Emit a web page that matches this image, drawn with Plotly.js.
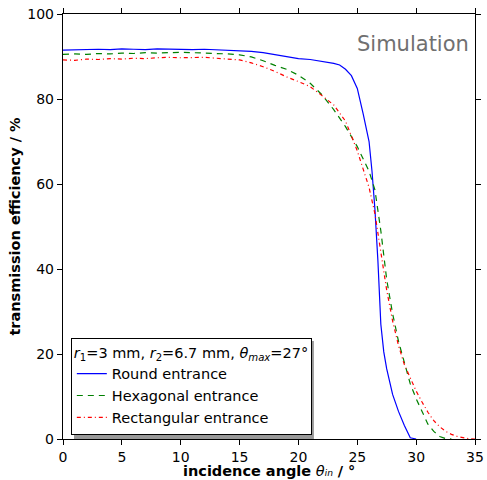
<!DOCTYPE html>
<html>
<head>
<meta charset="utf-8">
<script src="https://cdn.plot.ly/plotly-3.0.1.min.js"></script>
<style>html,body{margin:0;padding:0;background:#fff}#chart{width:487px;height:480px}</style>
</head>
<body>
<div id="chart"></div>
<script>
const roundX = [0,1,2,3,4,5,6,7,8,9,10,11,12,13,14,15,16,17,18,19,20,21,22,23,23.5,24,24.5,25,25.5,26,26.25,26.5,26.75,27,27.25,27.5,28,28.5,29,29.5,30];
const roundY = [91.5,91.6,91.6,91.7,91.6,91.8,91.7,91.6,91.8,91.7,91.7,91.6,91.7,91.6,91.5,91.4,91.2,90.9,90.4,89.9,89.5,89.3,88.9,88.4,88.0,87.0,85.5,82.5,76.5,70,63,54,42,27,20.5,16.5,10.5,6.5,3.2,0.3,0];

const hexX = [0,1,2,3,4,5,6,7,8,9,10,11,12,13,14,15,16,17,18,19,20,21,22,23,24,25,25.5,26,26.5,27,27.5,28,28.5,29,29.5,30,30.5,31,31.5,32,32.5,33];
const hexY = [90.5,90.6,90.5,90.7,90.6,90.8,90.7,90.9,90.8,90.9,91.0,90.9,90.8,90.8,90.6,90.4,89.9,89.0,87.9,87.0,85.6,83.7,81.0,77.5,73.5,68.8,66,63,58.6,49,37.5,29.5,23,17.8,13,9.5,6.5,3.5,1.8,0.6,0.1,0];

const rectX = [0,1,2,3,4,5,6,7,8,9,10,11,12,13,14,15,16,17,18,19,20,21,22,23,24,25,25.5,26,26.5,27,27.5,28,28.5,29,29.5,30,30.5,31,31.5,32,32.5,33,33.5,34,34.5,35];
const rectY = [89.2,89.1,89.4,89.3,89.5,89.4,89.6,89.5,89.7,89.8,89.7,89.8,89.8,89.6,89.4,89.2,88.5,87.6,86.5,85.2,84.1,82.9,80.8,78.6,74.8,67.8,63.5,59.2,53,44,35,27.8,22,17.5,14.2,11.3,8.7,6.3,4.3,2.9,1.8,1.1,0.6,0.3,0.05,0];

const xTicks = [0,5,10,15,20,25,30,35];
const yTicks = [0,20,40,60,80,100];

const seriesNames = ['Round entrance','Hexagonal entrance','Rectangular entrance'];
const legendTitle = '<i>r</i><sub>1</sub>=3 mm, <i>r</i><sub>2</sub>=6.7 mm, <i>θ</i><sub><i>max</i></sub>=27°';
const xTitle = '<b>incidence angle</b> <i>θᵢₙ</i> <b>/ °</b>';
const yTitle = '<b>transmission efficiency / %</b>';

const font = 'DejaVu Sans, sans-serif';

const traces = [
  {x: roundX, y: roundY, name: seriesNames[0], mode: 'lines', line: {color: '#0000ff', width: 1.2, dash: 'solid'}},
  {x: hexX, y: hexY, name: seriesNames[1], mode: 'lines', line: {color: '#008000', width: 1.2, dash: '6px,5px'}},
  {x: rectX, y: rectY, name: seriesNames[2], mode: 'lines', line: {color: '#ff0000', width: 1.2, dash: '4px,3px,1px,3px'}}
];

const axisCommon = {
  showline: true, linecolor: '#000', linewidth: 1.2, mirror: 'ticks',
  ticks: 'outside', ticklen: 5, tickwidth: 1, tickcolor: '#000',
  showgrid: false, zeroline: false,
  tickfont: {family: font, size: 14, color: '#000'}
};

const layout = {
  width: 487, height: 480,
  margin: {l: 63, r: 12, t: 14, b: 41},
  paper_bgcolor: '#fff', plot_bgcolor: '#fff',
  font: {family: font, color: '#000'},
  xaxis: Object.assign({}, axisCommon, {
    range: [0, 35], tickvals: xTicks, ticktext: xTicks.map(String)
  }),
  yaxis: Object.assign({}, axisCommon, {
    range: [0, 100], tickvals: yTicks, ticktext: yTicks.map(String),
    title: {text: yTitle, font: {family: font, size: 14.5}, standoff: 3}
  }),
  showlegend: true,
  legend: {
    x: 0.019, y: 0.238, xanchor: 'left', yanchor: 'top',
    bgcolor: '#fff', bordercolor: '#000', borderwidth: 1,
    font: {family: font, size: 14.5},
    title: {text: legendTitle, font: {family: font, size: 14.5}},
    tracegroupgap: 0, itemwidth: 30
  },
  annotations: [
    {xref: 'paper', yref: 'paper', x: 0.99, y: 0.929, xanchor: 'right', yanchor: 'middle',
     text: 'Simulation', showarrow: false, font: {family: font, size: 21, color: '#707070'}},
    {xref: 'paper', yref: 'paper', x: 0.5, y: -0.0965, xanchor: 'center', yanchor: 'bottom',
     text: xTitle, showarrow: false, borderpad: 0, font: {family: font, size: 14.5, color: '#000'}}
  ],
  shapes: [{
    type: 'rect', xref: 'paper', yref: 'paper', layer: 'above',
    x0: 0.0267, x1: 0.609, y0: 0.0, y1: 0.2306,
    fillcolor: '#999', line: {width: 0}
  }]
};

Plotly.newPlot('chart', traces, layout, {displayModeBar: false, staticPlot: true});
</script>
</body>
</html>
